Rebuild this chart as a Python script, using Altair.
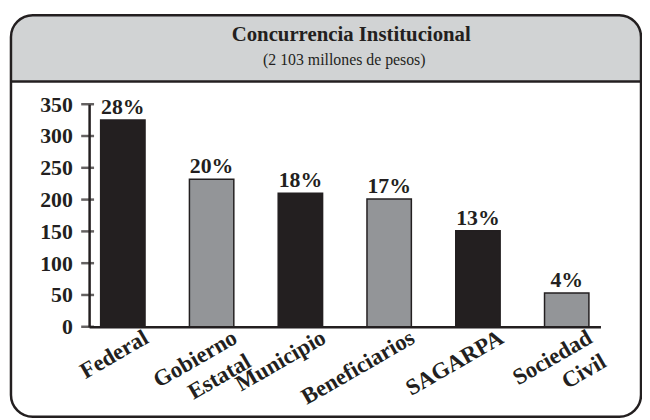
import altair as alt
import pandas as pd

# ---- data ----
categories = ["Federal", "Gobierno Estatal", "Municipio", "Beneficiarios", "SAGARPA", "Sociedad Civil"]
label_lines = ["Federal", "Gobierno|Estatal", "Municipio", "Beneficiarios", "SAGARPA", "Sociedad|Civil"]
values = [325, 232, 210, 201, 151, 53]
percent_labels = ["28%", "20%", "18%", "17%", "13%", "4%"]
bar_colors = ["#231f20", "#939598", "#231f20", "#939598", "#231f20", "#939598"]
y_ticks = [0, 50, 100, 150, 200, 250, 300, 350]
title_text = "Concurrencia Institucional"
subtitle_text = "(2 103 millones de pesos)"

df = pd.DataFrame({"cat": categories, "label": label_lines, "value": values,
                   "pct": percent_labels, "color": bar_colors})
ticks_df = pd.DataFrame({"value": y_ticks})
one = alt.Data(values=[{"k": 1}])

W, H = 517, 225
FONT = "Liberation Serif"
INK = "#231f20"
FS = 22

y_axis = alt.Axis(title=None, values=y_ticks, ticks=False, domainColor=INK,
                  domainWidth=2.5, grid=False, labelFont=FONT, labelFontSize=FS,
                  labelFontWeight="bold", labelColor=INK, labelPadding=17,
                  labelOverlap=False, labelBound=False, labelFlush=False)
y_scale = alt.Scale(domain=[0, 350], nice=False, zero=True)

x_enc = alt.X("cat:N", sort=categories,
              scale=alt.Scale(paddingInner=0.5, paddingOuter=0.13),
              axis=alt.Axis(title=None, labels=False, ticks=False, domainColor=INK,
                            domainWidth=2.5, grid=False))
y_enc = alt.Y("value:Q", scale=y_scale, axis=y_axis)

# decorations (frame)
header = alt.Chart(one).mark_rect(fill="#d1d3d4", cornerRadiusTopLeft=22, cornerRadiusTopRight=22).encode(
    x=alt.value(-79), x2=alt.value(558), y=alt.value(-90), y2=alt.value(-23))
sep = alt.Chart(one).mark_rule(color=INK, strokeWidth=2.5).encode(
    x=alt.value(-79), x2=alt.value(558), y=alt.value(-23))
box = alt.Chart(one).mark_rect(fill="transparent", stroke=INK, strokeWidth=2.5, cornerRadius=22).encode(
    x=alt.value(-79), x2=alt.value(558), y=alt.value(-90), y2=alt.value(316))

bars = alt.Chart(df).mark_bar(stroke=INK, strokeWidth=1.5).encode(
    x=x_enc, y=y_enc, color=alt.Color("color:N", scale=None))

pct = alt.Chart(df).mark_text(font=FONT, fontSize=FS, fontWeight="bold", color=INK,
                              baseline="alphabetic", dy=-6).encode(
    x=alt.X("cat:N", sort=categories), y=y_enc, text="pct:N")

yticks = alt.Chart(ticks_df).mark_tick(color=INK, size=13, thickness=2.5, xOffset=-1.5).encode(
    y=y_enc, x=alt.value(0))

xlabels = alt.Chart(df).mark_text(font=FONT, fontSize=23, fontWeight="bold", color=INK,
                                  angle=330, align="right", baseline="alphabetic",
                                  dx=16, dy=27, lineBreak="|", lineHeight=28).encode(
    x=alt.X("cat:N", sort=categories), y=alt.value(H), text="label:N")

title = alt.Chart(one).mark_text(text=title_text, font=FONT, fontSize=21, fontWeight="bold",
                                 color=INK, align="center", baseline="alphabetic").encode(
    x=alt.value(265), y=alt.value(-64))
subtitle = alt.Chart(one).mark_text(text=subtitle_text, font=FONT, fontSize=16,
                                    color=INK, align="center", baseline="alphabetic").encode(
    x=alt.value(258), y=alt.value(-40))

chart = alt.layer(header, sep, box, bars, pct, yticks, xlabels, title, subtitle).properties(
    width=W, height=H,
    padding={"left": 82, "top": 95, "right": 42, "bottom": 93},
    autosize=alt.AutoSizeParams(type="none"),
).configure_view(stroke=None)

chart.save("out.html", embed_options={"renderer": "svg", "actions": False})
